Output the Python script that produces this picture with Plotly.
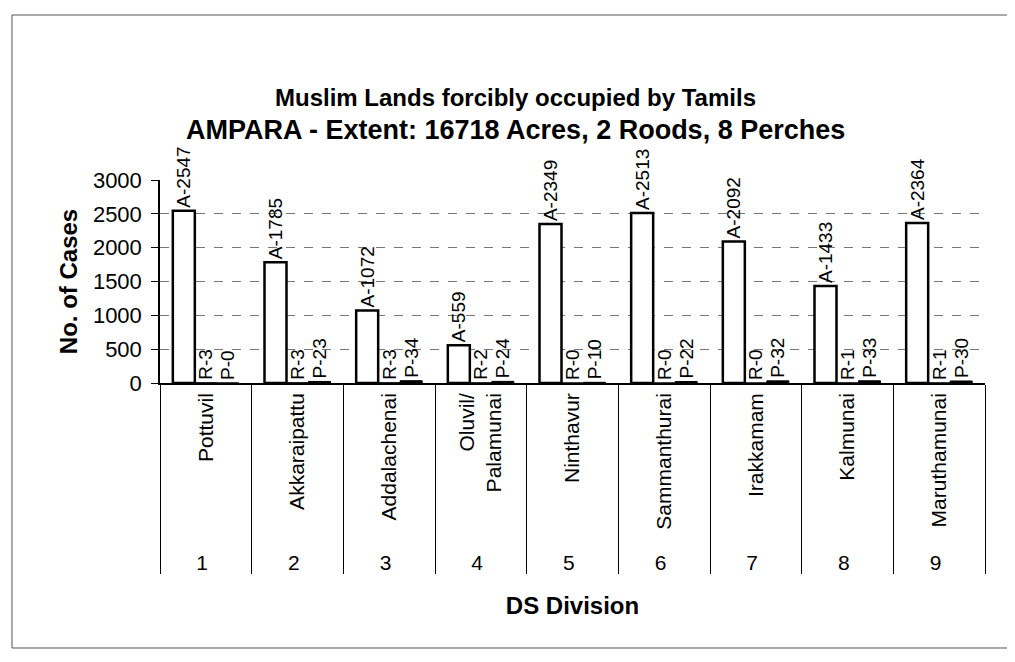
import plotly.graph_objects as go

divisions = ["Pottuvil", "Akkaraipattu", "Addalachenai", "Oluvil/<br>Palamunai", "Ninthavur",
             "Sammanthurai", "Irakkamam", "Kalmunai", "Maruthamunai"]
numbers = ["1", "2", "3", "4", "5", "6", "7", "8", "9"]
acres = [2547, 1785, 1072, 559, 2349, 2513, 2092, 1433, 2364]
roods = [3, 3, 3, 2, 0, 0, 0, 1, 1]
perches = [0, 23, 34, 24, 10, 22, 32, 33, 30]

FONT = "Liberation Sans, Arial, sans-serif"
x = [numbers, divisions]

fig = go.Figure()
fig.add_trace(go.Bar(x=x, y=acres, name="Acres", texttemplate="A-%{y}",
                     marker=dict(color="white", line=dict(color="black", width=2.5))))
fig.add_trace(go.Bar(x=x, y=roods, name="Roods", texttemplate="R-%{y}",
                     marker=dict(color="black", line=dict(color="black", width=1))))
fig.add_trace(go.Bar(x=x, y=perches, name="Perches", texttemplate="P-%{y}",
                     marker=dict(color="black", line=dict(color="black", width=1))))
fig.update_traces(textposition="outside", textangle=-90, cliponaxis=False, constraintext="none",
                  textfont=dict(family=FONT, size=19, color="black"))

fig.update_layout(
    width=1015, height=662,
    margin=dict(l=152, r=38, t=172, b=287, autoexpand=False),
    paper_bgcolor="white", plot_bgcolor="white",
    barmode="group", bargap=0.28, bargroupgap=0,
    showlegend=False,
    font=dict(family=FONT, color="black"),
)
fig.update_yaxes(range=[0, 3000], dtick=500, showline=True, linecolor="black", linewidth=1.5,
                 ticks="outside", ticklen=7, tickcolor="black", ticklabelstandoff=5,
                 tickfont=dict(family=FONT, size=22, color="black"),
                 showgrid=True, gridcolor="#777777", griddash="dash", gridwidth=1,
                 zeroline=False,
                 title=dict(text="<b>No. of Cases</b>", font=dict(family=FONT, size=24), standoff=8))
fig.update_xaxes(type="multicategory", showline=True, linecolor="black", linewidth=1.5,
                 tickangle=-90, tickfont=dict(family=FONT, size=21, color="black"),
                 showdividers=True, dividercolor="black", dividerwidth=1,
                 showgrid=False,
                 title=dict(text="<b>DS Division</b>", font=dict(family=FONT, size=24), standoff=25))

fig.add_annotation(text="<b>Muslim Lands forcibly occupied by Tamils</b>", xref="paper", yref="paper",
                   x=0.4315, y=1, yshift=83, yanchor="middle", showarrow=False,
                   font=dict(family=FONT, size=24))
fig.add_annotation(text="<b>AMPARA - Extent: 16718 Acres, 2 Roods, 8 Perches</b>", xref="paper", yref="paper",
                   x=0.4315, y=1, yshift=50, yanchor="middle", showarrow=False,
                   font=dict(family=FONT, size=27))

fig.add_shape(type="rect", xref="paper", yref="paper", x0=-0.1794, x1=1.1, y0=-1.3054, y1=1.8128,
              line=dict(color="#555555", width=1), layer="below")

fig.write_html("out.html")
